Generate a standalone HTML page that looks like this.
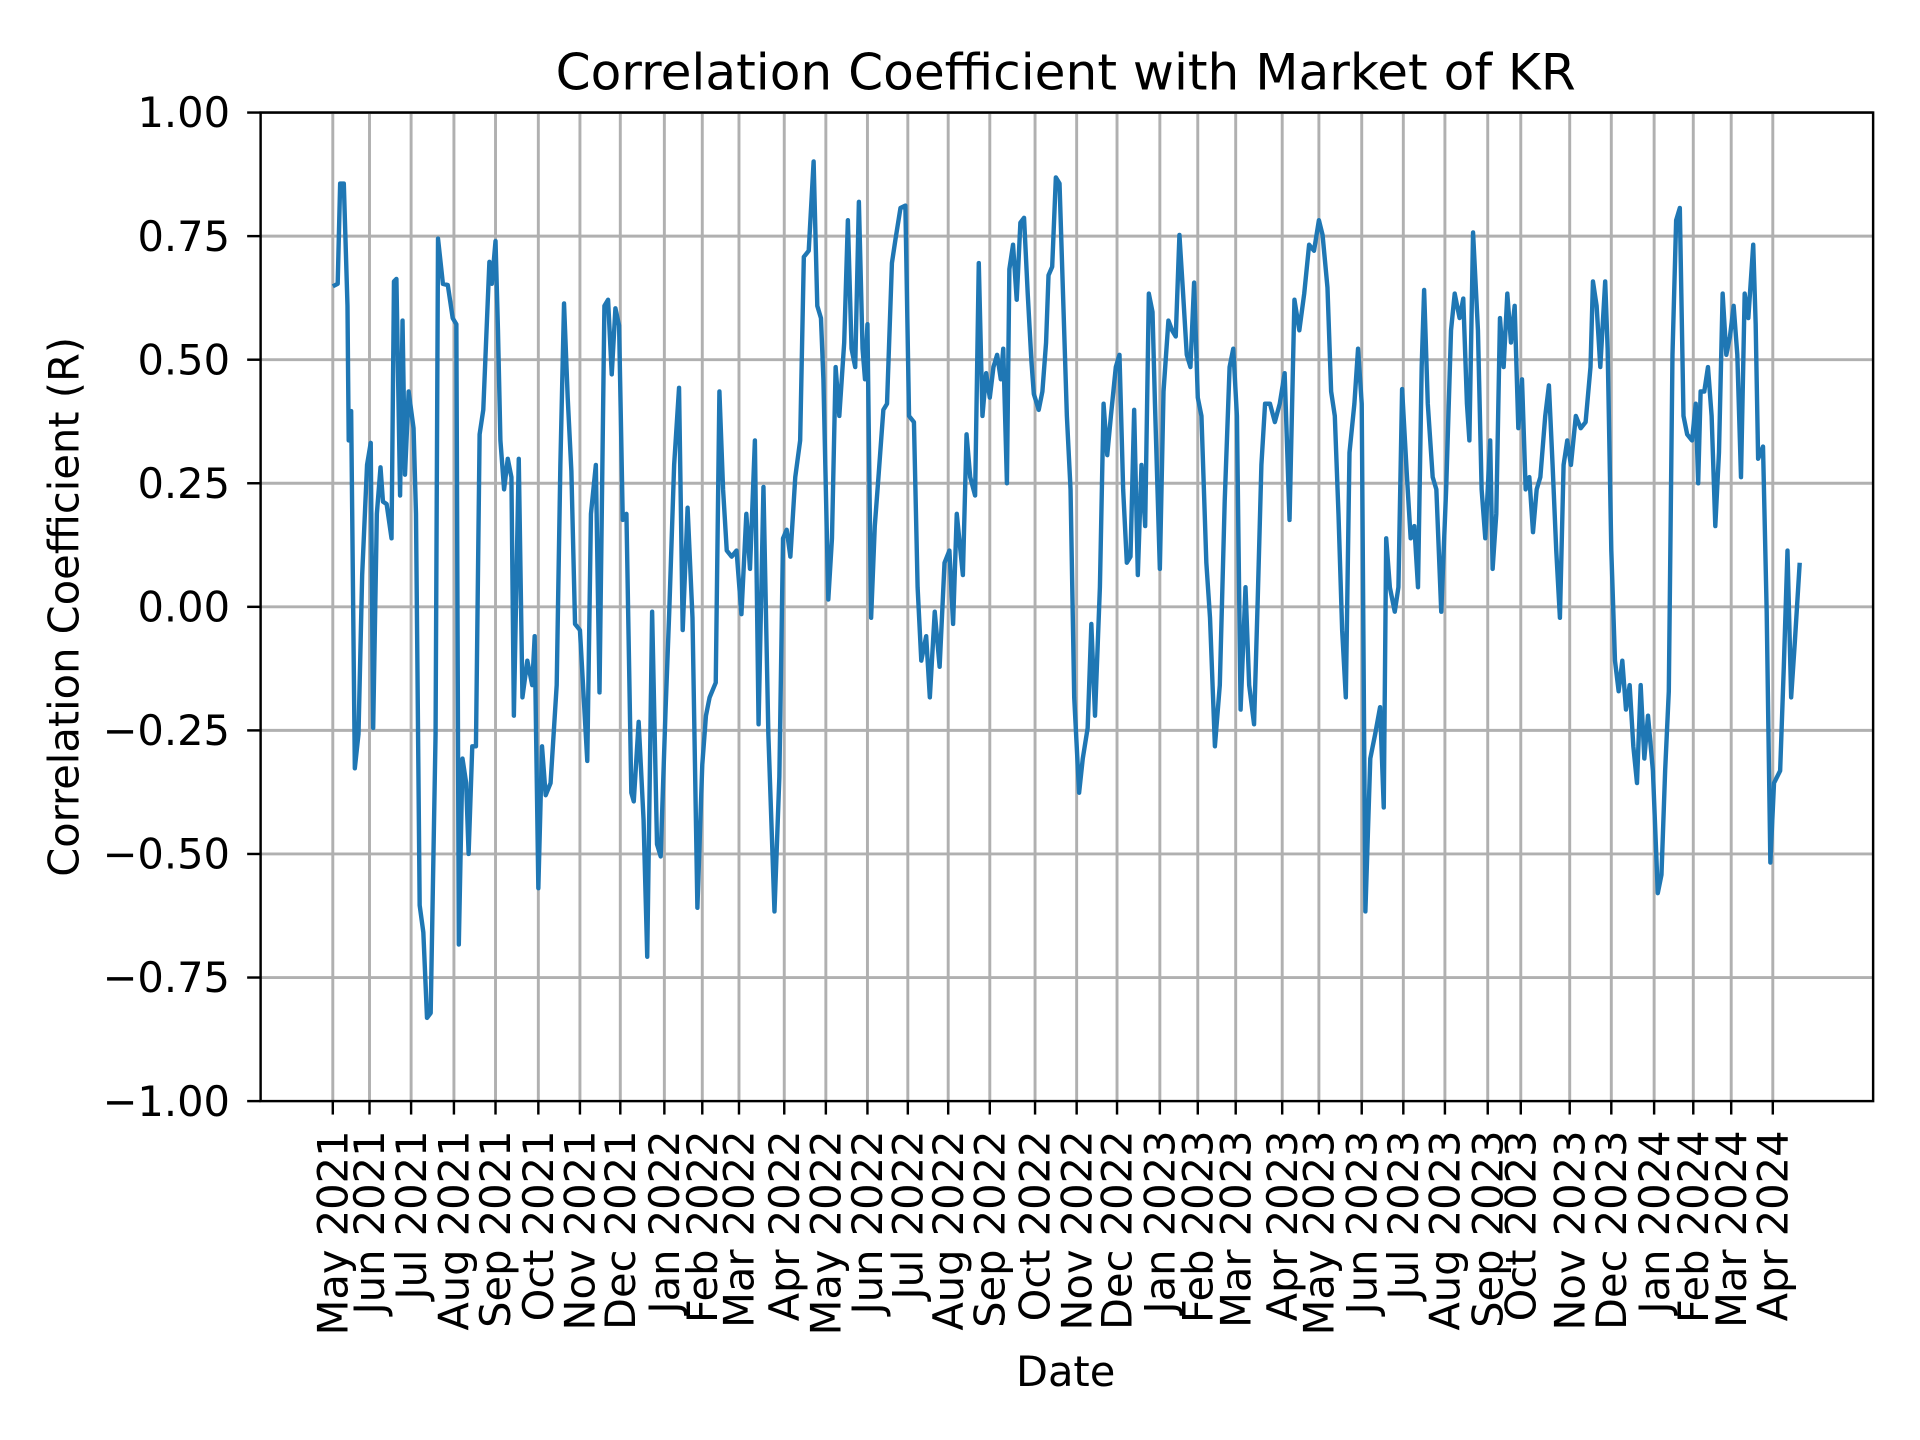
<!DOCTYPE html>
<html><head><meta charset="utf-8"><style>html,body{margin:0;padding:0;background:#fff}svg{display:block}</style></head>
<body>
<svg width="1920" height="1440" viewBox="0 0 1569.3 1177" xmlns="http://www.w3.org/2000/svg" font-family="'DejaVu Sans','Liberation Sans',sans-serif">
<rect width="1569.3" height="1177" fill="#fff"/>
<g stroke="#b0b0b0" stroke-width="2.4">
<line x1="213" x2="1531" y1="92" y2="92"/><line x1="213" x2="1531" y1="193" y2="193"/><line x1="213" x2="1531" y1="294" y2="294"/><line x1="213" x2="1531" y1="395" y2="395"/><line x1="213" x2="1531" y1="496" y2="496"/><line x1="213" x2="1531" y1="597" y2="597"/><line x1="213" x2="1531" y1="698" y2="698"/><line x1="213" x2="1531" y1="799" y2="799"/>
</g>
<g id="vg" stroke="#b0b0b0" stroke-width="2.4"></g>
<polyline fill="none" stroke="#1f77b4" stroke-width="3.6" stroke-linejoin="round" points="272,234 276,232 278,150 281,150 284,250 285,360 287,336 290,628 293,600 296,470 300,380 303,362 305,595 308,420 311,382 313,410 316,412 320,440 322,230 324,228 327,405 329,262 331,388 334,320 338,350 340,420 343,740 346,762 349,832 352,828 356,600 358,195 362,232 366,233 370,260 373,265 375,772 378,620 381,640 383,698 386,610 389,610 392,355 395,335 398,262 400,214 402,232 405,197 407,270 409,360 412,400 415,375 418,390 420,585 424,375 427,570 431,540 435,560 437,520 440,726 443,610 446,650 450,640 455,560 458,380 461,248 464,325 467,385 470,510 474,515 480,622 483,420 487,380 490,566 494,250 497,245 500,306 503,252 506,266 509,425 512,420 516,648 518,655 522,590 526,670 529,782 533,500 537,690 540,700 544,580 547,500 551,380 555,317 558,515 562,415 566,505 570,742 574,625 577,585 580,570 585,558 588,320 591,400 594,450 598,455 602,450 606,502 610,420 613,465 617,360 620,592 624,398 628,600 633,745 637,635 640,440 643,433 646,455 650,390 654,360 657,210 661,205 665,132 668,250 671,260 673,310 677,490 680,440 683,300 686,340 690,280 693,180 696,285 699,300 702,165 705,285 707,310 709,265 712,505 715,430 718,390 722,335 725,330 729,215 732,195 736,170 740,168 743,340 747,345 750,480 753,540 757,520 760,570 764,500 768,545 772,460 776,450 779,510 782,420 787,470 790,355 793,390 797,405 800,215 803,340 806,305 809,325 812,300 815,290 818,310 820,285 823,395 825,220 828,200 831,245 834,182 837,178 840,240 843,295 845,322 849,335 852,320 855,280 857,225 860,218 863,145 866,150 869,245 872,340 875,400 878,570 882,648 885,620 889,595 892,510 895,585 899,480 902,330 905,372 908,340 912,300 915,290 918,400 921,460 924,455 927,335 930,470 933,380 936,430 939,240 942,255 944,330 948,465 951,320 955,262 958,270 961,275 964,192 967,240 970,290 973,300 976,231 979,325 982,340 986,460 989,505 993,610 997,560 1001,410 1005,300 1008,285 1011,340 1014,580 1018,480 1021,560 1025,592 1028,490 1031,380 1034,330 1038,330 1042,345 1046,330 1050,305 1054,425 1058,245 1062,270 1066,240 1070,200 1074,205 1078,180 1081,192 1085,235 1088,320 1091,340 1094,420 1097,515 1100,570 1103,370 1107,330 1110,285 1113,330 1116,745 1120,620 1124,600 1128,578 1131,660 1133,440 1136,480 1140,500 1143,480 1146,318 1150,390 1153,440 1156,430 1159,480 1162,300 1164,237 1167,330 1171,390 1174,400 1178,500 1182,400 1186,270 1189,240 1193,260 1196,244 1199,330 1201,360 1204,190 1208,270 1211,400 1214,440 1218,360 1220,465 1223,420 1226,260 1229,300 1232,240 1235,280 1238,250 1241,350 1244,310 1247,400 1250,390 1253,435 1256,400 1259,390 1263,340 1266,315 1269,380 1272,450 1275,505 1278,380 1281,360 1284,380 1288,340 1292,350 1296,345 1300,300 1302,230 1305,250 1308,300 1312,230 1314,285 1317,450 1320,540 1323,565 1326,540 1329,580 1332,560 1335,610 1338,640 1341,560 1344,620 1347,585 1351,630 1355,730 1358,715 1361,630 1364,565 1367,290 1370,180 1373,170 1376,340 1379,355 1383,360 1386,330 1388,395 1390,320 1393,320 1396,300 1399,340 1402,430 1405,370 1408,240 1411,290 1414,275 1417,250 1420,290 1423,390 1426,240 1429,260 1433,200 1435,265 1437,375 1441,365 1444,500 1447,705 1450,640 1455,630 1458,545 1461,450 1464,570 1467,525 1471,460"/>
<rect x="213" y="92" width="1318" height="808" fill="none" stroke="#000" stroke-width="2"/>
<g font-size="34" text-anchor="end">
<text x="188" y="104">1.00</text><text x="188" y="205">0.75</text><text x="188" y="306">0.50</text><text x="188" y="407">0.25</text><text x="188" y="508">0.00</text><text x="188" y="609">−0.25</text><text x="188" y="710">−0.50</text><text x="188" y="811">−0.75</text><text x="188" y="912">−1.00</text>
</g>
<g stroke="#000" stroke-width="2">
<line x1="202" x2="213" y1="92" y2="92"/><line x1="202" x2="213" y1="193" y2="193"/><line x1="202" x2="213" y1="294" y2="294"/><line x1="202" x2="213" y1="395" y2="395"/><line x1="202" x2="213" y1="496" y2="496"/><line x1="202" x2="213" y1="597" y2="597"/><line x1="202" x2="213" y1="698" y2="698"/><line x1="202" x2="213" y1="799" y2="799"/><line x1="202" x2="213" y1="900" y2="900"/>
</g>
<g id="xt" font-size="34" text-anchor="end"></g>
<g id="xk" stroke="#000" stroke-width="2"></g>
<text x="871" y="73" font-size="41" text-anchor="middle">Correlation Coefficient with Market of KR</text>
<text x="871" y="1133" font-size="34" text-anchor="middle">Date</text>
<text transform="translate(64,496) rotate(-90)" font-size="34" text-anchor="middle">Correlation Coefficient (R)</text>
<script>
var t=[[272,"May 2021"],[302,"Jun 2021"],[336,"Jul 2021"],[371,"Aug 2021"],[405,"Sep 2021"],[440,"Oct 2021"],[474,"Nov 2021"],[507,"Dec 2021"],[543,"Jan 2022"],[574,"Feb 2022"],[604,"Mar 2022"],[641,"Apr 2022"],[675,"May 2022"],[709,"Jun 2022"],[742,"Jul 2022"],[775,"Aug 2022"],[809,"Sep 2022"],[846,"Oct 2022"],[880,"Nov 2022"],[913,"Dec 2022"],[948,"Jan 2023"],[979,"Feb 2023"],[1010,"Mar 2023"],[1048,"Apr 2023"],[1078,"May 2023"],[1113,"Jun 2023"],[1147,"Jul 2023"],[1181,"Aug 2023"],[1216,"Sep 2023"],[1243,"Oct 2023"],[1283,"Nov 2023"],[1317,"Dec 2023"],[1352,"Jan 2024"],[1384,"Feb 2024"],[1415,"Mar 2024"],[1449,"Apr 2024"]];
var ns="http://www.w3.org/2000/svg",vg=document.getElementById("vg"),xt=document.getElementById("xt"),xk=document.getElementById("xk");
t.forEach(function(a){var x=a[0];
var l=document.createElementNS(ns,"line");l.setAttribute("x1",x);l.setAttribute("x2",x);l.setAttribute("y1",92);l.setAttribute("y2",900);vg.appendChild(l);
var k=document.createElementNS(ns,"line");k.setAttribute("x1",x);k.setAttribute("x2",x);k.setAttribute("y1",900);k.setAttribute("y2",911);xk.appendChild(k);
var s=document.createElementNS(ns,"text");s.setAttribute("transform","translate("+(x+12)+",924) rotate(-90)");s.textContent=a[1];xt.appendChild(s);});
</script>
</svg>
</body></html>
